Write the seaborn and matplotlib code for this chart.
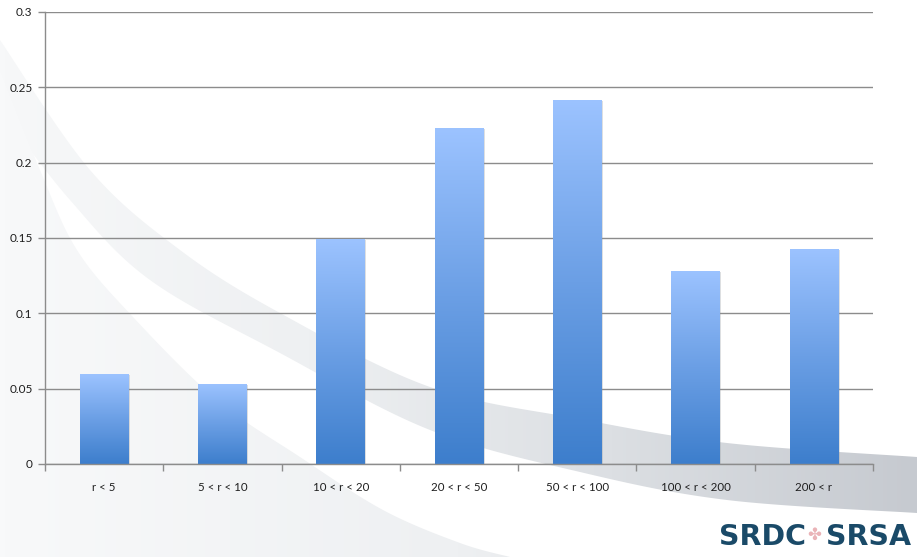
import numpy as np
import pandas as pd
import matplotlib
matplotlib.use("Agg")
import matplotlib.pyplot as plt
import seaborn as sns
from matplotlib.path import Path
from matplotlib.patches import PathPatch
from matplotlib.ticker import FuncFormatter, FixedLocator
from matplotlib.colors import LinearSegmentedColormap

categories = ["r < 5", "5 < r < 10", "10 < r < 20", "20 < r < 50",
              "50 < r < 100", "100 < r < 200", "200 < r"]
values = [0.0597, 0.0532, 0.1493, 0.2230, 0.2416, 0.1281, 0.1427]
yticks = [0, 0.05, 0.1, 0.15, 0.2, 0.25, 0.3]

sns.set_theme(style="white")
plt.rcParams['font.family'] = ['Lato', 'DejaVu Sans']

W, H = 917, 557
fig = plt.figure(figsize=(W / 100, H / 100), dpi=100)
fig.patch.set_facecolor("white")

# ---------- decorative background (slide template swoosh) ----------
bg = fig.add_axes([0, 0, 1, 1], zorder=-5)
bg.set_xlim(0, W)
bg.set_ylim(H, 0)
bg.axis("off")


def catmull(pts, n=30):
    pts = np.asarray(pts, float)
    P = np.vstack([pts[0], pts, pts[-1]])
    out = []
    for i in range(1, len(P) - 2):
        p0, p1, p2, p3 = P[i - 1], P[i], P[i + 1], P[i + 2]
        t = np.linspace(0, 1, n, endpoint=False)[:, None]
        out.append(0.5 * ((2 * p1) + (-p0 + p2) * t +
                          (2 * p0 - 5 * p1 + 4 * p2 - p3) * t ** 2 +
                          (-p0 + 3 * p1 - 3 * p2 + p3) * t ** 3))
    out.append(P[-2][None, :])
    return np.vstack(out)


def grad_fill(poly, colors):
    patch = PathPatch(Path(poly, closed=True), facecolor="none", edgecolor="none")
    bg.add_patch(patch)
    cm = LinearSegmentedColormap.from_list("bgc", colors)
    im = bg.imshow(np.linspace(0, 1, 256).reshape(1, -1), extent=[0, W, H, 0],
                   cmap=cm, aspect="auto", interpolation="bilinear")
    im.set_clip_path(patch)


# swoosh band
upper = catmull([(0, 40), (90, 170), (180, 250), (280, 313), (430, 387),
                 (580, 419), (727, 443), (917, 457)])
lower = catmull([(917, 513), (727, 500), (580, 472), (430, 430), (280, 353),
                 (150, 280), (70, 200), (0, 110)])
grad_fill(np.vstack([upper, lower, upper[:1]]),
          ["#f7f8f9", "#eef0f2", "#dcdfe3", "#c6cad0"])

# lower-left light region
edge = catmull([(0, 70), (40, 170), (77, 250), (133, 317), (217, 400),
                (300, 457), (383, 510), (460, 543), (510, 557)])
grad_fill(np.vstack([edge, [(0, 557)], edge[:1]]),
          ["#f8f9fa", "#eef0f2", "#d0d4d9"])

# ---------- chart ----------
ax = fig.add_axes([45 / W, 1 - 464 / H, (873 - 45) / W, (464 - 12) / H])
ax.patch.set_alpha(0)

df = pd.DataFrame({"cat": categories, "val": values})
sns.barplot(data=df, x="cat", y="val", ax=ax, width=0.41, color="#5b93e0",
            saturation=1, zorder=3)

ax.set_ylim(0, 0.3)
ax.set_xlim(-0.5, len(categories) - 0.5)
ax.set_xlabel("")
ax.set_ylabel("")

cmap = LinearSegmentedColormap.from_list("g", ["#3d7ecc", "#6b9fe5", "#9cc3ff"])
grad = np.linspace(0, 1, 256).reshape(-1, 1)
for bar in list(ax.patches):
    x, w, h = bar.get_x(), bar.get_width(), bar.get_height()
    bar.set_facecolor("none")
    bar.set_edgecolor("none")
    ax.add_patch(plt.Rectangle((x + 0.012, 0), w, h - 0.0006, facecolor="#8f959d",
                               alpha=0.3, edgecolor="none", zorder=2.5))
    im = ax.imshow(grad, extent=[x, x + w, 0, h], origin="lower", aspect="auto",
                   cmap=cmap, zorder=3.2, interpolation="bicubic")
    im.set_clip_path(bar)

ax.set_yticks(yticks)
ax.yaxis.set_major_formatter(FuncFormatter(lambda v, p: "%g" % v))
ax.grid(axis="y", color="#8c8c8c", linewidth=1.0, zorder=1)
ax.grid(axis="x", visible=False)
ax.set_axisbelow(True)

ax.xaxis.set_major_locator(FixedLocator(np.arange(-0.5, len(categories), 1.0)))
ax.xaxis.set_minor_locator(FixedLocator(np.arange(len(categories))))
ax.xaxis.set_major_formatter(plt.NullFormatter())
ax.set_xticklabels(categories, minor=True)
ax.tick_params(axis="x", which="major", length=5, color="#8c8c8c", width=1,
               direction="out", bottom=True)
ax.tick_params(axis="x", which="minor", length=0, labelsize=8.3, pad=13,
               labelcolor="#1e1e1e")
ax.tick_params(axis="y", length=5, color="#8c8c8c", width=1, direction="out",
               left=True, labelsize=8.5, labelcolor="#1e1e1e", pad=4)

for s in ["top", "right"]:
    ax.spines[s].set_visible(False)
for s in ["left", "bottom"]:
    ax.spines[s].set_color("#8c8c8c")
    ax.spines[s].set_linewidth(1)
    ax.spines[s].set_zorder(4)

# ---------- logo ----------
def fx(x):
    return x / W


def fy(y):
    return 1 - y / H


fig.text(fx(719), fy(537), "SRDC", fontsize=20.5, fontweight="heavy",
         color="#1a4a68", ha="left", va="center", family=["DejaVu Sans"])
fig.text(fx(814), fy(535), "\u2724", fontsize=12,
         color="#eab3b7", ha="center", va="center", family=["DejaVu Sans"])
fig.text(fx(826), fy(537), "SRSA", fontsize=20.5, fontweight="heavy",
         color="#1a4a68", ha="left", va="center", family=["DejaVu Sans"])

fig.savefig("out.png", dpi=100)
